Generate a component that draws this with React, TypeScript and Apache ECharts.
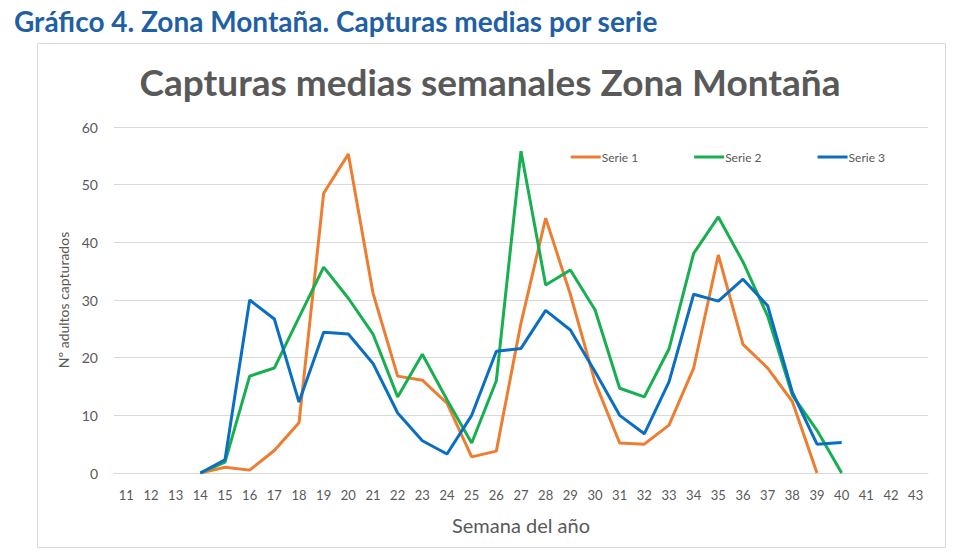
import React, { useEffect, useRef } from "react";
import * as echarts from "echarts";

const weeks = ["11","12","13","14","15","16","17","18","19","20","21","22","23","24","25","26","27","28","29","30","31","32","33","34","35","36","37","38","39","40","41","42","43"];

const serie1 = [null,null,null,0,1.0,0.5,3.9,8.7,48.5,55.3,31.2,16.8,16.1,12.1,2.8,3.8,26,44.2,31,15.8,5.2,5.0,8.3,18.2,37.8,22.3,18.2,12.4,0,null,null,null,null];
const serie2 = [null,null,null,0,1.9,16.8,18.2,27.0,35.7,30.3,24.1,13.2,20.6,12.7,5.2,16.0,55.8,32.6,35.2,28.3,14.7,13.2,21.5,38.1,44.4,36.6,27.2,13.5,7.4,0,null,null,null];
const serie3 = [null,null,null,0,2.3,30.0,26.7,12.3,24.4,24.1,19.0,10.4,5.6,3.3,10.0,21.1,21.6,28.2,24.8,17.6,10.0,6.8,15.8,31.0,29.8,33.6,29.0,14.0,5.0,5.3,null,null,null];

const seriesNames = ["Serie 1", "Serie 2", "Serie 3"];
const seriesColors = ["#ED7D31", "#17AF4F", "#0A6FC2"];
const yTicks = { min: 0, max: 60, interval: 10 };

const FONT = "Lato, 'Open Sans', sans-serif";

export default function App() {
  const ref = useRef<HTMLDivElement>(null);
  useEffect(() => {
    if (!ref.current) return;
    const chart = echarts.init(ref.current, null, { renderer: "svg" });
    const data = [serie1, serie2, serie3];
    chart.setOption({
      animation: false,
      backgroundColor: "#ffffff",
      textStyle: { fontFamily: FONT },
      title: [
        {
          text: "Gráfico 4. Zona Montaña. Capturas medias por serie",
          left: 9,
          top: 2,
          textStyle: { color: "#1F5FA6", fontSize: 28, fontWeight: "bold", fontFamily: FONT },
        },
        {
          text: "Capturas medias semanales Zona Montaña",
          left: "center",
          top: 58,
          textStyle: { color: "#595959", fontSize: 37, fontWeight: "bold", fontFamily: FONT },
        },
      ],
      graphic: [
        {
          type: "rect",
          shape: { x: 37.5, y: 43.5, width: 908, height: 504 },
          style: { fill: "none", stroke: "#D9D9D9", lineWidth: 1 },
          silent: true,
          z: -1,
        },
      ],
      legend: {
        top: 146,
        right: 90,
        itemGap: 56,
        itemWidth: 30,
        itemHeight: 3,
        icon: "rect",
        data: seriesNames,
        textStyle: { color: "#595959", fontSize: 12, fontFamily: FONT, padding: [0, 0, 0, -4] },
      },
      grid: { left: 114, right: 52, top: 127, bottom: 87, containLabel: false },
      xAxis: {
        type: "category",
        data: weeks,
        boundaryGap: true,
        name: "Semana del año",
        nameLocation: "middle",
        nameGap: 42,
        nameTextStyle: { color: "#595959", fontSize: 20, fontFamily: FONT },
        axisLine: { show: true, lineStyle: { color: "#D9D9D9", width: 1 } },
        axisTick: { show: false },
        axisLabel: { color: "#595959", fontSize: 13, margin: 15, interval: 0, fontFamily: FONT },
      },
      yAxis: {
        type: "value",
        min: yTicks.min,
        max: yTicks.max,
        interval: yTicks.interval,
        name: "Nº adultos capturados",
        nameLocation: "middle",
        nameGap: 36,
        nameTextStyle: { color: "#595959", fontSize: 14, fontFamily: FONT },
        axisLine: { show: false },
        axisTick: { show: false },
        axisLabel: { color: "#595959", fontSize: 14, margin: 16, fontFamily: FONT },
        splitLine: { lineStyle: { color: "#D9D9D9", width: 1 } },
      },
      series: seriesNames.map((name, i) => ({
        name,
        type: "line",
        data: data[i],
        showSymbol: false,
        symbol: "none",
        connectNulls: false,
        lineStyle: { color: seriesColors[i], width: 3 },
        itemStyle: { color: seriesColors[i] },
      })),
    });
    return () => chart.dispose();
  }, []);
  return (
    <div
      ref={ref}
      style={{ position: "fixed", left: 0, top: 0, width: 980, height: 560 }}
    />
  );
}
